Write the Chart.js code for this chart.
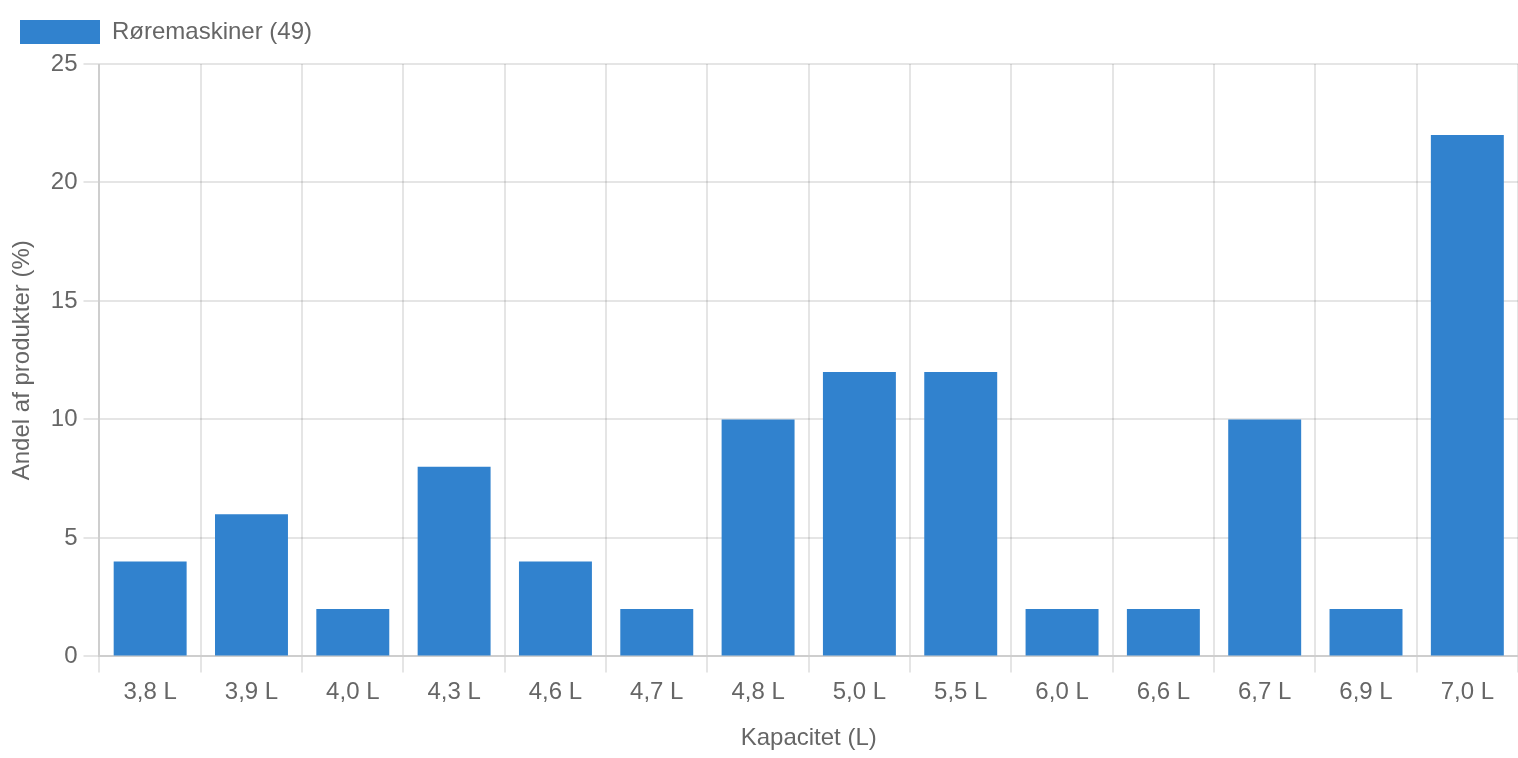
<!DOCTYPE html>
<html lang="da">
<head>
    <meta charset="UTF-8">
    <title>Røremaskiner - kapacitet</title>
    <script src="https://cdn.jsdelivr.net/npm/chart.js"></script>
    <style>
        html, body {
            margin: 0;
            padding: 0;
            background: #fff;
        }
        #wrap {
            width: 1518px;
            height: 758px;
        }
    </style>
</head>
<body>
    <div id="wrap">
        <canvas id="kapacitetChart"></canvas>
    </div>
    <script>
        // Data
        const kategorier = ['3,8 L', '3,9 L', '4,0 L', '4,3 L', '4,6 L', '4,7 L', '4,8 L', '5,0 L', '5,5 L', '6,0 L', '6,6 L', '6,7 L', '6,9 L', '7,0 L'];
        const andele = [4, 6, 2, 8, 4, 2, 10, 12, 12, 2, 2, 10, 2, 22];
        const serieNavn = 'Røremaskiner (49)';

        const fontFamily = 'Helvetica, Arial, "Liberation Sans", sans-serif';
        const tekstFarve = '#666';
        const gitter = 'rgba(0, 0, 0, 0.1)';

        Chart.defaults.font.family = fontFamily;
        Chart.defaults.font.size = 24;
        Chart.defaults.color = tekstFarve;

        // lidt ekstra luft under legenden
        const legendeLuft = {
            id: 'legendeLuft',
            beforeInit(chart) {
                const origFit = chart.legend.fit;
                chart.legend.fit = function () {
                    origFit.bind(chart.legend)();
                    this.height += 10;
                };
            }
        };

        const ctx = document.getElementById('kapacitetChart').getContext('2d');
        new Chart(ctx, {
            type: 'bar',
            data: {
                labels: kategorier,
                datasets: [{
                    label: serieNavn,
                    data: andele,
                    backgroundColor: '#3182CE',
                    borderWidth: 0
                }]
            },
            options: {
                responsive: true,
                maintainAspectRatio: false,
                animation: false,
                layout: { padding: 0 },
                plugins: {
                    legend: {
                        align: 'start',
                        padding: 20,
                        labels: {
                            boxWidth: 80,
                            boxHeight: 24,
                            padding: 20,
                            color: tekstFarve
                        }
                    },
                    tooltip: { enabled: false }
                },
                scales: {
                    x: {
                        grid: { color: gitter, lineWidth: 2, tickLength: 16 },
                        border: { color: gitter, width: 2 },
                        ticks: { padding: 6 },
                        title: {
                            display: true,
                            text: 'Kapacitet (L)',
                            padding: { top: 11, bottom: 5 }
                        }
                    },
                    y: {
                        min: 0,
                        max: 25,
                        grid: { color: gitter, lineWidth: 2, tickLength: 16 },
                        border: { color: gitter, width: 2 },
                        ticks: { stepSize: 5, padding: 6 },
                        title: {
                            display: true,
                            text: 'Andel af produkter (%)',
                            padding: { top: 8, bottom: 8 }
                        }
                    }
                }
            },
            plugins: [legendeLuft]
        });
    </script>
</body>
</html>
